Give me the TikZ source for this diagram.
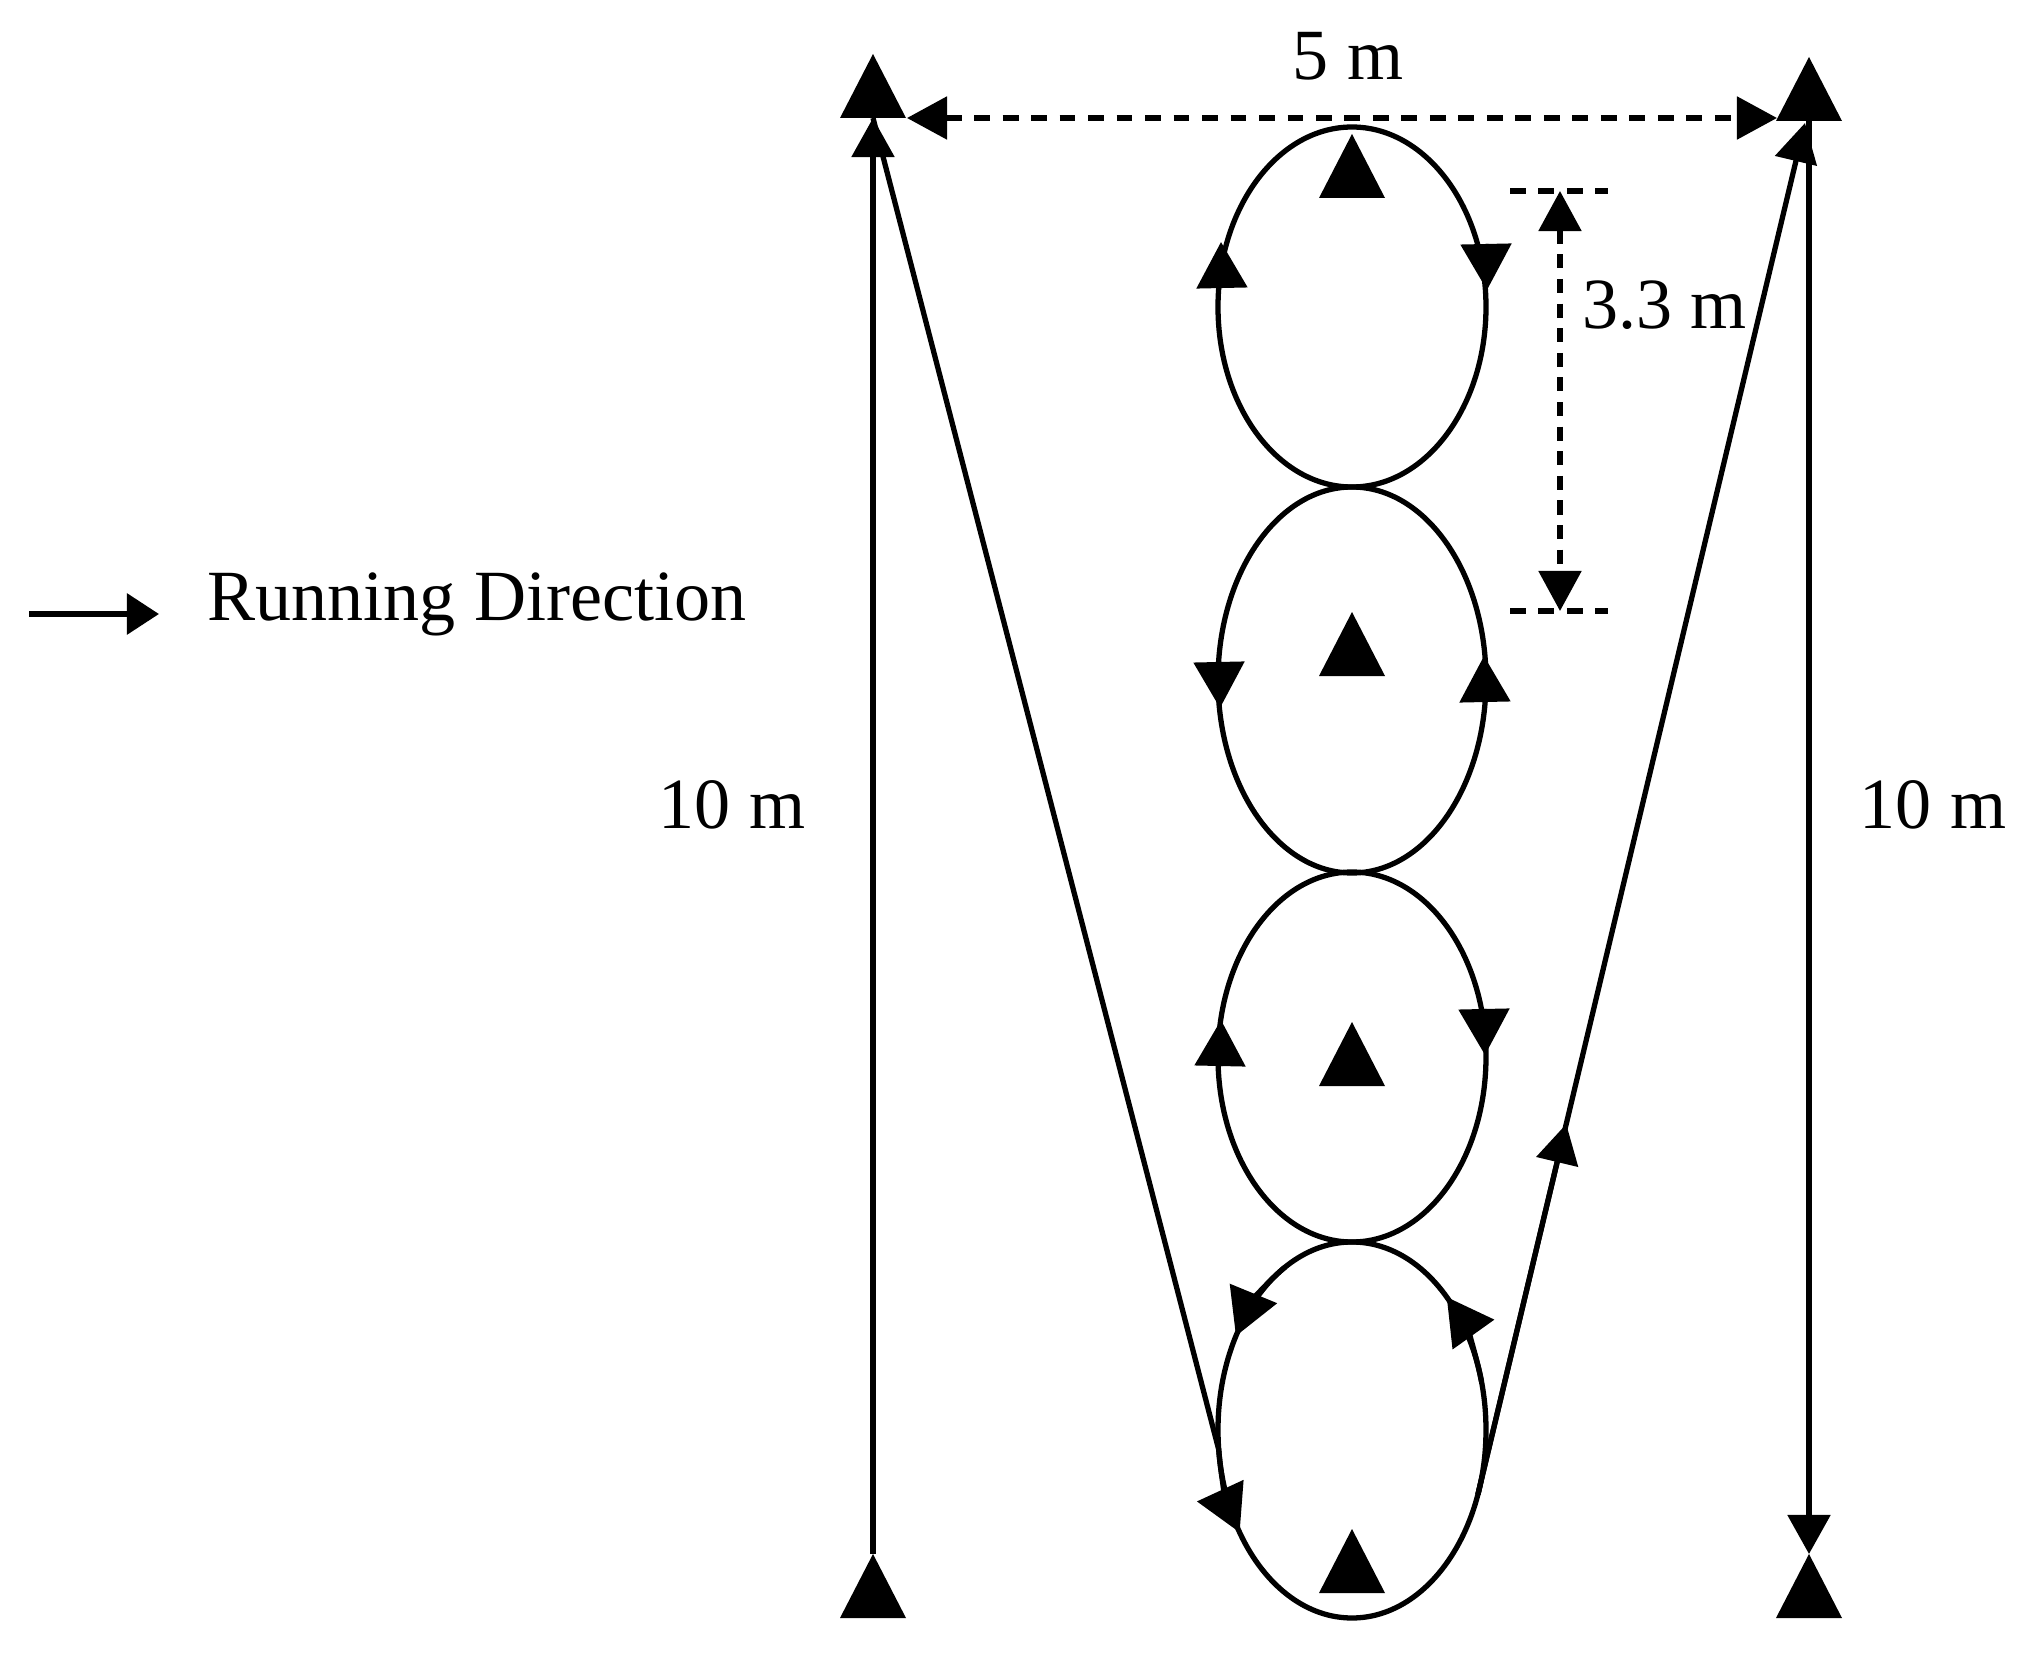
\documentclass[tikz,border=0pt]{standalone}
\usepackage{fontspec}
\setmainfont{Liberation Serif}
\usetikzlibrary{arrows.meta,calc}
\begin{document}
\begin{tikzpicture}[x=0.01cm,y=-0.01cm, line width=1.5pt,
  tip/.style={-{Triangle[length=4.6mm,width=5mm]}},
  ltip/.style={-{Triangle[length=3.9mm,width=4.2mm]}},
  stip/.style={{Triangle[length=4mm,width=4.2mm]}-{Triangle[length=4mm,width=4.2mm]}},
  dim/.style={dash pattern=on 4.5pt off 3.6pt},
  lbl/.style={font=\fontsize{20.5}{24}\selectfont, inner sep=0pt},
  cone/.pic={\fill (-33,0) -- (0,-64) -- (33,0) -- cycle;}]
\useasboundingbox (0,0) rectangle (2038,1676);
% ellipse centres
\coordinate (E1) at (1352,307);
\coordinate (E2) at (1352,680);
\coordinate (E3) at (1352,1057);
\coordinate (E4) at (1352,1430);
% corner cones (base centres)
\coordinate (TL) at (873,118);
\coordinate (TR) at (1809,121);
\coordinate (BL) at (873,1618);
\coordinate (BR) at (1809,1618);
\coordinate (BLa) at (873,1554);
\coordinate (BRa) at (1809,1554);
\pic at (TL) {cone};
\pic at (TR) {cone};
\pic at (BL) {cone};
\pic at (BR) {cone};
% inner cones
\pic at (1352,198) {cone};
\pic at (1352,676) {cone};
\pic at (1352,1086) {cone};
\pic at (1352,1593) {cone};
% ellipses
\draw (E1) ellipse[x radius=134, y radius=180];
\draw (E2) ellipse[x radius=134, y radius=193];
\draw (E3) ellipse[x radius=134, y radius=185];
\draw (E4) ellipse[x radius=134, y radius=188];
% direction arrows on ellipses
\draw[tip] (1222,288) -- (1221,242);
\draw[tip] (1486,244) -- (1487,290);
\draw[tip] (1219,662) -- (1220,708);
\draw[tip] (1485,702) -- (1484,656);
\draw[tip] (1220,1066) -- (1221,1020);
\draw[tip] (1484,1009) -- (1485,1055);
\draw[tip] ($(E4)+(240:134 and 188)$) arc[start angle=240,end angle=210,x radius=134,y radius=188];
\draw[tip] ($(E4)+(-15:134 and 188)$) arc[start angle=-15,end angle=-45,x radius=134,y radius=188];
% verticals
\draw[ltip] (BLa) -- (TL);
\draw[ltip] (TR) -- (BRa);
% left diagonal into lowest ellipse
\draw[tip] (TL) -- ($(E4)+(174:134 and 188)$) arc[start angle=174,end angle=147,x radius=134,y radius=188];
% right diagonal out of lowest ellipse
\coordinate (R0) at ($(E4)+(20:134 and 188)$);
\coordinate (RT) at (1805,123);
\draw[ltip] (R0) -- (RT);
\draw[ltip] (R0) -- ($(R0)!0.27!(RT)$);
% 5 m dimension
\coordinate (DL) at (907,118);
\coordinate (DR) at (1777,118);
\draw[stip, dim] (DL) -- (DR);
\node[lbl, anchor=base] (five) at (1348,80) {5 m};
% 3.3 m dimension
\coordinate (T1) at (1560,191);
\coordinate (T2) at (1560,611);
\draw[dim] (1510,191) -- (1608,191);
\draw[dim] (1510,611) -- (1608,611);
\draw[stip, dash pattern=on 4pt off 3pt] (T1) -- (T2);
\node[lbl, anchor=base west] (three) at (1580,329) {3.3 m};
% 10 m labels
\node[lbl, anchor=base] (tenL) at (732,828) {10 m};
\node[lbl, anchor=base] (tenR) at (1933,828) {10 m};
% legend
\coordinate (LA) at (29,614);
\coordinate (LB) at (159,614);
\draw[-{Triangle[length=3.2mm,width=4mm]}, line width=1.7pt] (LA) -- (LB);
\node[lbl, anchor=base west] (legend) at (205,620) {Running Direction};
\end{tikzpicture}
\end{document}
